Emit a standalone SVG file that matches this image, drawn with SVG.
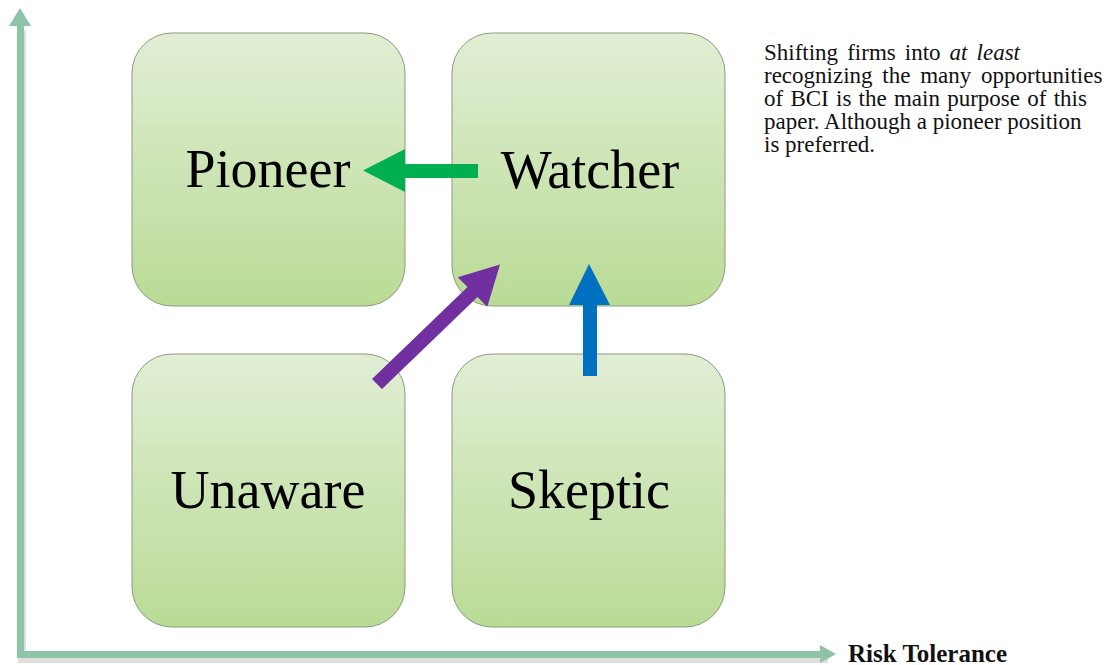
<svg xmlns="http://www.w3.org/2000/svg" width="1106" height="665" viewBox="0 0 1106 665">
<defs>
<linearGradient id="boxg" x1="0" y1="0" x2="0" y2="1">
<stop offset="0" stop-color="#e1eed5"/>
<stop offset="1" stop-color="#b9db95"/>
</linearGradient>
<style>
.box{fill:url(#boxg);stroke:#8d9a80;stroke-width:1}
.lbl{font-size:54px;fill:#000;text-anchor:middle}
.note{font-size:23px;fill:#111}
.axis{fill:#8dc3a6}
.shadow{fill:#c9c9c9}
</style>
</defs>
<rect width="1106" height="665" fill="#ffffff"/>
<g id="axes">
<path class="shadow" d="M18 30 h8 v627 h802 v6 h-810 z" opacity="0.6"/>
<path class="axis" d="M17 26 H9 L20 8 L31 26 H24 V651 H820 V645 L836 654 L820 663 V658 H17 Z"/>
</g>
<g font-family="'Liberation Serif', 'Times New Roman', serif">
<g id="node-pioneer">
<rect class="box" x="132" y="33" width="273" height="273" rx="40"/>
<text class="lbl" x="268" y="187">Pioneer</text>
</g>
<g id="node-watcher">
<rect class="box" x="452" y="33" width="273" height="273" rx="40"/>
<text class="lbl" x="590" y="188">Watcher</text>
</g>
<g id="node-unaware">
<rect class="box" x="132" y="354" width="273" height="273" rx="40"/>
<text class="lbl" x="268" y="508">Unaware</text>
</g>
<g id="node-skeptic">
<rect class="box" x="452" y="354" width="273" height="273" rx="40"/>
<text class="lbl" x="589" y="508">Skeptic</text>
</g>
</g>
<g id="connectors">
<path d="M478 164 V178 H405 V192 L363 170.5 L405 149 V164 Z" fill="#00b050"/>
<path d="M372 379 L467.5 287 L457.7 277.2 L500 264.4 L487.3 306.8 L477.5 297 L382 389 Z" fill="#7030a0"/>
<path d="M583 376 H597 V305 H610 L589 264 L569 305 H583 Z" fill="#0070c0"/>
</g>
<g id="caption" font-family="'Liberation Serif', 'Times New Roman', serif">
<text class="note" x="764" y="60" word-spacing="3.3">Shifting firms into <tspan font-style="italic">at least</tspan></text>
<text class="note" x="764" y="83" word-spacing="4">recognizing the many opportunities</text>
<text class="note" x="764" y="106" word-spacing="1.5">of BCI is the main purpose of this</text>
<text class="note" x="764" y="129">paper. Although a pioneer position</text>
<text class="note" x="764" y="152">is preferred.</text>
</g>
<text x="848" y="662" font-family="'Liberation Serif', 'Times New Roman', serif" font-size="25" font-weight="bold" fill="#111">Risk Tolerance</text>
</svg>
